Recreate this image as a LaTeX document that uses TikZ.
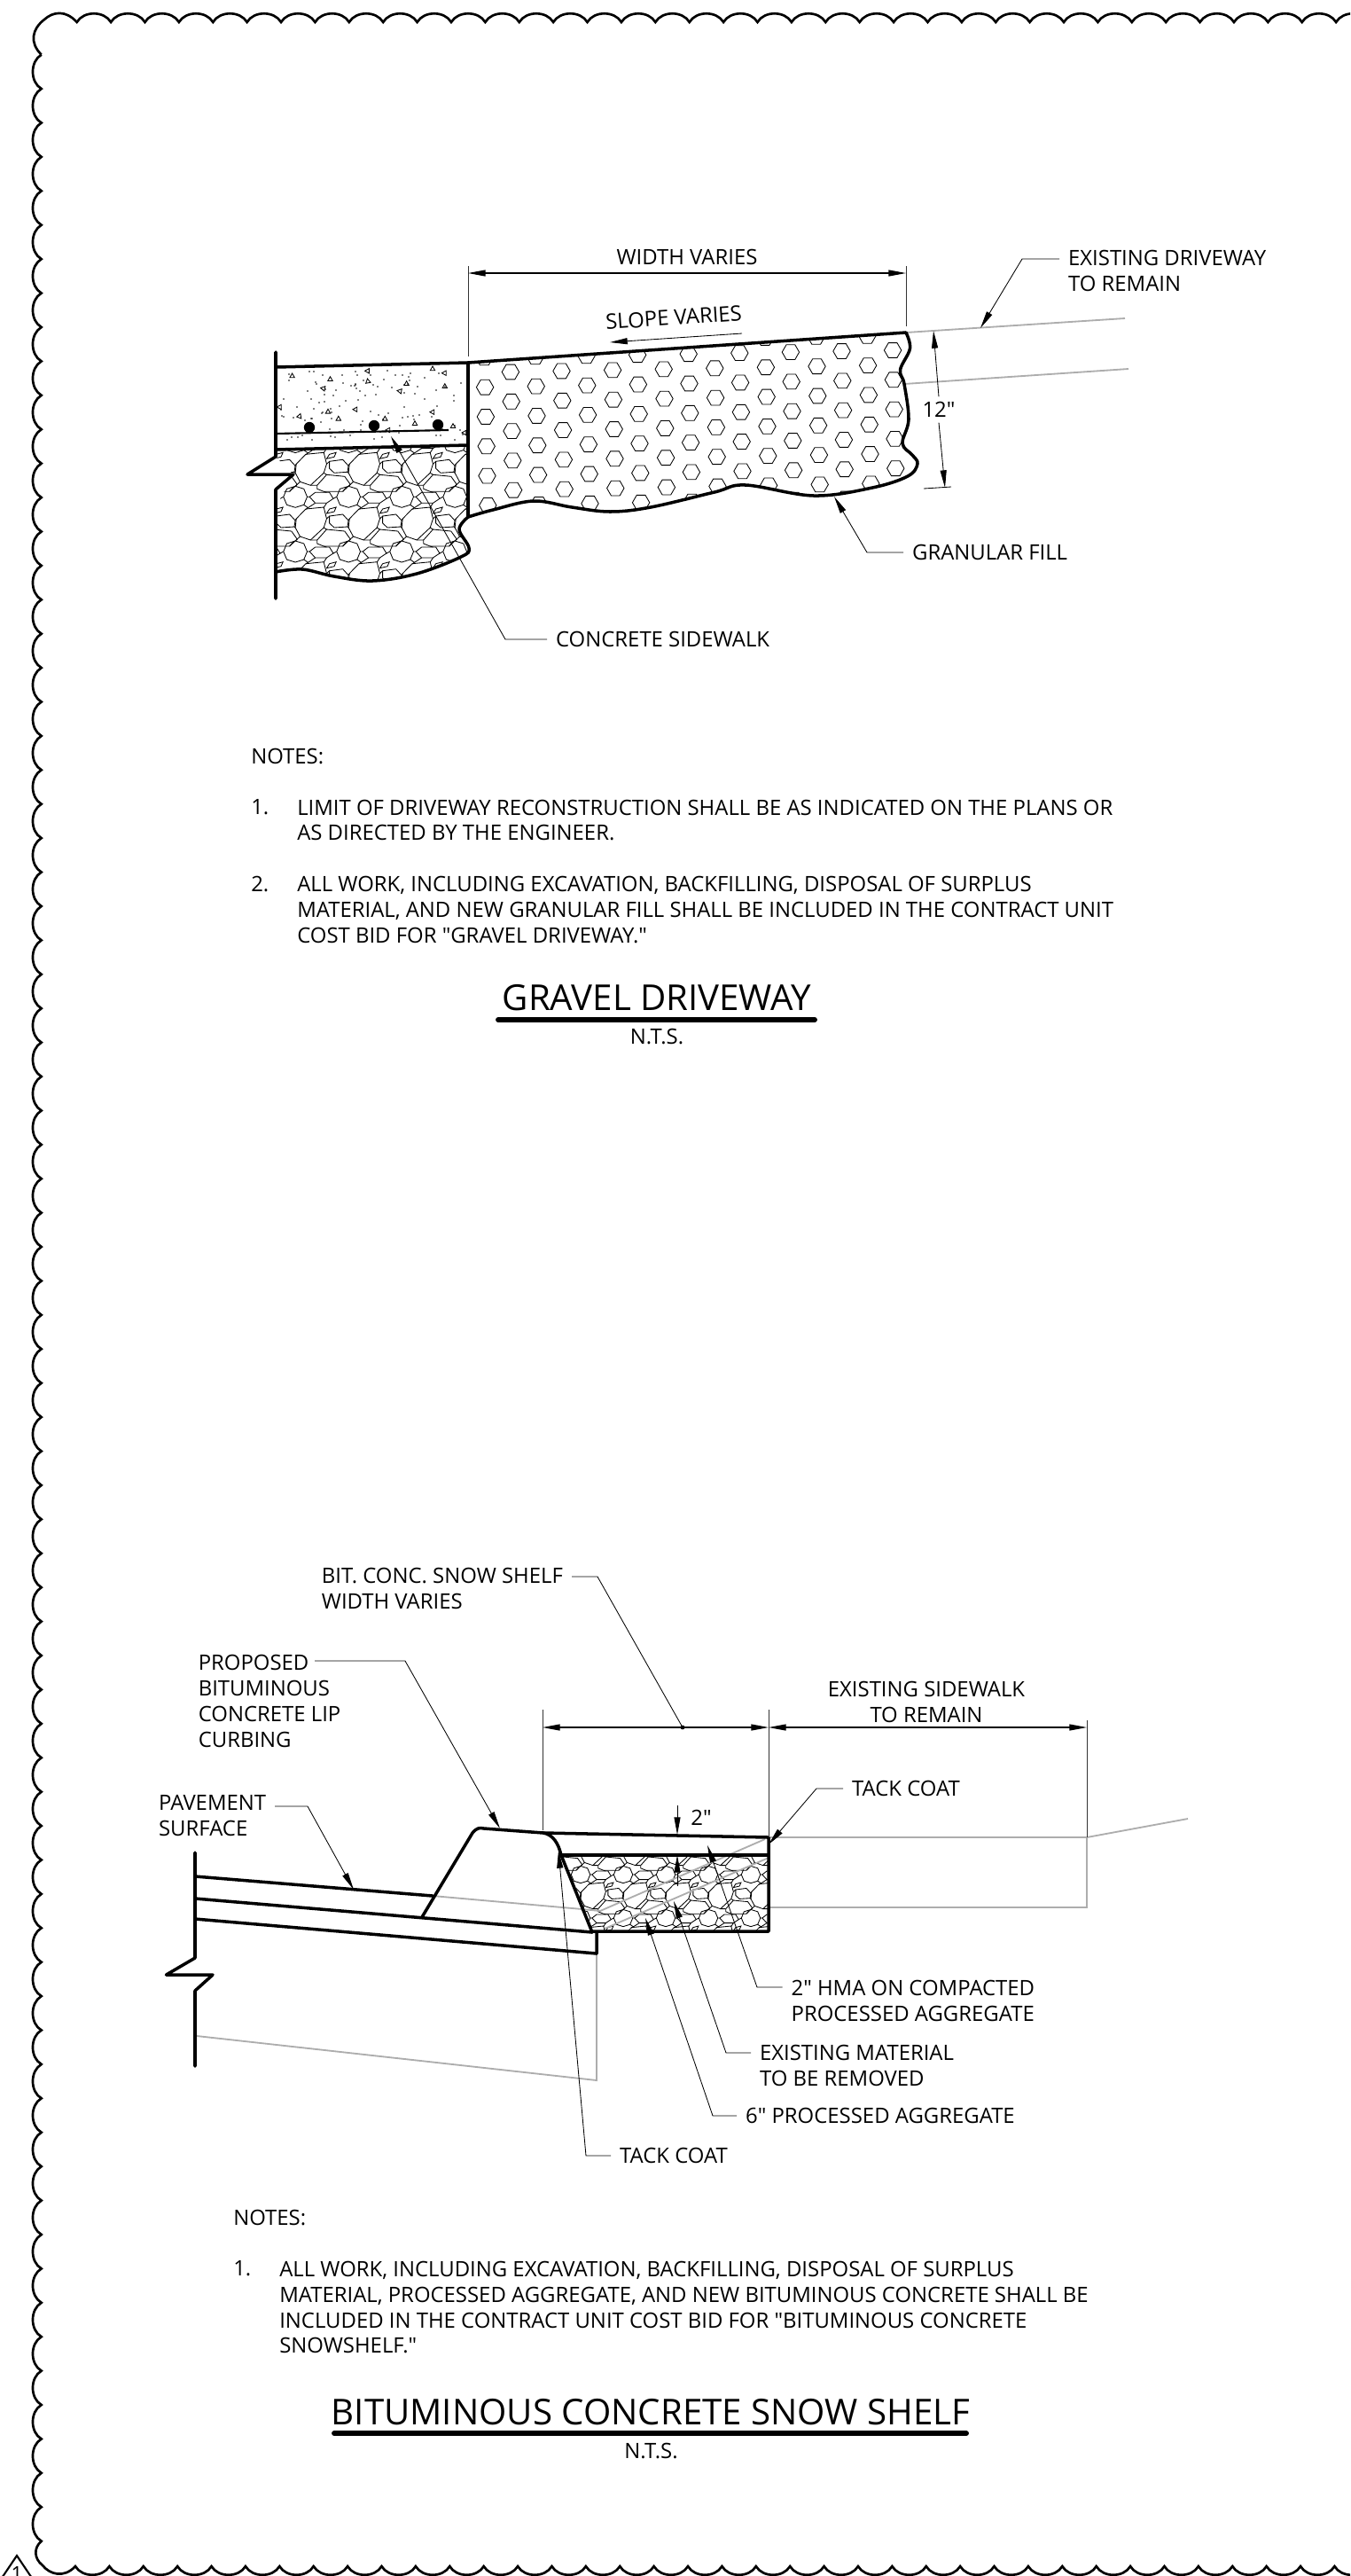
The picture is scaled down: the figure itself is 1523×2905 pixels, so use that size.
\documentclass[tikz,border=0pt]{standalone}
\usepackage{fontspec}
\defaultfontfeatures[\rmfamily]{}
\setmainfont{Open Sans}
\usetikzlibrary{arrows.meta}
\tikzset{
    heavyline/.style={line width=2.5pt,line join=round,line cap=round},
    thinline/.style={line width=0.6pt},
    greyline/.style={line width=1.3pt,color=black!32},
    leader/.style={line width=0.6pt,-{Triangle[length=14pt,width=5pt]}},
    dimline/.style={line width=0.8pt,{Triangle[length=14pt,width=5pt]}-{Triangle[length=14pt,width=5pt]}},
    extline/.style={line width=0.7pt,color=black!80},
    scallop/.style={line width=1.9pt,line join=miter},
    callout/.style={inner xsep=7pt,inner ysep=0pt,align=left,font=\fontsize{17}{20.6}\selectfont},
    plaintext/.style={inner sep=0pt,align=left,font=\fontsize{17}{20.6}\selectfont},
    titletext/.style={inner sep=0pt,font=\fontsize{28.6}{32}\selectfont},
    titlebar/.style={line width=4.2pt,line cap=round}
}
% rock pattern, one tile
\newcommand{\rocktile}{
    \draw[thinline] (3,13)--(13,2)--(32,0)--(35,13)--(32,23)--(18,37)--(7,33)--(2,23)--cycle;
    \draw[thinline] (38,10)--(52,8)--(58,15)--(57,22)--(43,23)--(38,18)--cycle;
    \draw[thinline] (35,7)--(38,2)--(45,0)--(43,5)--cycle;
    \draw[thinline] (25,37)--(35,25)--(54,27)--(60,36)--(52,44)--(32,44)--(25,41)--cycle;
    \draw[thinline] (2,38)--(11,41)--(14.5,50)--(11,59)--(2,62)--(-7,59)--(-10.5,50)--(-7,41)--cycle;
    \draw[thinline] (17,50)--(23,45)--(38,45)--(42,52)--(35,57)--(23,57)--cycle;
    \draw[thinline] (35,13)--(38,10) (32,23)--(35,25) (18,37)--(25,37) (7,33)--(2,38);
    \draw[thinline] (14.5,50)--(17,50) (42,52)--(45.5,50) (32,44)--(35,45) (52,44)--(56,39);
    \draw[thinline] (57,22)--(58,23) (58,15)--(59,13) (11,59)--(15,62) (35,57)--(32,62) (23,57)--(13,64);
}
\newcommand{\hexcell}[2]{
    \draw[thinline,shift={(#1,#2)}] (0:9.7)--(60:9.7)--(120:9.7)--(180:9.7)--(240:9.7)--(300:9.7)--cycle;
}
\newcommand{\gritmark}[3]{
    \draw[thinline,shift={(#1,#2)},rotate=#3] (0,-3)--(2.7,1.8)--(-2.7,1.8)--cycle;
}
\def\fillwave{-- plot[smooth,tension=.6] coordinates {(1022,375) (1026.5,393) (1015.5,417) (1020,433) (1025,473) (1018,500) (1029,513) (1035,523) (1024,537) (984,550) (918,559) (841,547) (806,555) (734,572) (688,577) (645,572) (602,565) (556,575) (528,583)}}
\def\rockwave{-- plot[smooth,tension=.6] coordinates {(528,583) (518,597) (529,618) (520,628) (470,647) (420,655) (377,650) (341,642) (311,645)}}
\begin{document}
\begin{tikzpicture}[x=0.25mm,y=-0.25mm]
    \useasboundingbox (0,0) rectangle (1523,2905);
    \clip (0,0) rectangle (1523,2905);
    % scalloped sheet edge
    \draw[scallop] (46.7,61.7) .. controls (33,48) and (36,33) .. (50,22) .. controls (60,13) and (74,11) .. (86.7,25)
        foreach \k in {1,...,38} { to[bend left=60] ({86.7+38.39*\k},25) };
    \draw[scallop] (46.7,61.7)
        foreach \k in {1,...,73} { to[bend right=60] (46.7,{61.7+38.41*\k}) }
        .. controls (38,2873) and (38,2885) .. (48,2893) .. controls (56,2903) and (72,2908) .. (85,2894)
        foreach \k in {1,...,38} { to[bend right=60] ({85+38.39*\k},2894) };
    \draw[line width=1.5pt] (19,2882) -- (-10,2925) -- (48,2925) -- cycle;
    \node[inner sep=0pt,font=\fontsize{16}{20}\selectfont] (revmark) at (19,2902) {1};

    % gravel driveway section
    \begin{scope}
        \clip (528,409) -- (1022,375) \fillwave -- cycle;
        \foreach \i in {0,...,17} {
            \foreach \j in {-2,...,5} {
                \pgfmathsetmacro{\hx}{547.1+28.8*\i+0.8*\j}
                \pgfmathsetmacro{\hy}{436.7+33.3*\j-0.525*\i-16.7*mod(\i,2)}
                \hexcell{\hx}{\hy}
            }
        }
    \end{scope}
    \begin{scope}
        \clip (311,507) -- (528,502) \rockwave -- (311,572) -- (331,535) -- (311,515) -- cycle;
        \foreach \i in {-1,...,3} {
            \foreach \j in {-1,...,2} {
                \begin{scope}[shift={(331+60*\i,510.3+61.7*\j)},xscale=1.07]
                    \rocktile
                \end{scope}
            }
        }
    \end{scope}
    % concrete speckle
    \pgfmathsetseed{41}
    \foreach \n in {1,...,110} {
        \pgfmathsetmacro{\sx}{random(315,524)}
        \pgfmathsetmacro{\sy}{random(418,498)}
        \fill (\sx,\sy) circle (0.9);
    }
    \foreach \gx/\gy/\ga in {329.6/424/0,372.5/427.7/0,414.6/418.3/90,415/430/10,364.6/438/80,488/416/0,501.4/420.7/90,458.6/432.7/0,451/441/80,501.8/435.7/0,315.4/459/90,337.9/469.3/-20,370/464.3/0,381.8/472.3/0,401/461.7/90,434.3/472.3/0,487.9/464.7/90,468/477.7/0,511/480.7/0,437.9/485/90,524/488/90} {
        \gritmark{\gx}{\gy}{\ga}
    }
    \draw[line width=1.5pt] (311,489) -- (506,485);
    \fill (349,482) circle (6.2);
    \fill (422,480) circle (6.2);
    \fill (494,479) circle (6.2);
    % existing pavement, behind
    \draw[greyline] (1022,375) -- (1269,359);
    \draw[greyline] (1020,433) -- (1273,416);
    % outlines
    \draw[heavyline] (311,397) -- (311,515) -- (279,535) -- (331,535) -- (311,552) -- (311,675);
    \draw[heavyline] (311,414) -- (528,409) -- (1022,375);
    \draw[heavyline] (311,507) -- (528,502);
    \draw[heavyline] (528,409) -- (528,583);
    \draw[heavyline] (528,583) \rockwave;
    \draw[heavyline] (1022,375) \fillwave;

    % driveway dimensions
    \coordinate (widthleft) at (528,308);
    \coordinate (widthright) at (1022,308);
    \draw[extline] (528,300) -- (528,402);
    \draw[extline] (1022,300) -- (1022,368);
    \draw[dimline] (widthleft) -- node[plaintext,above=6pt] (widthtext) {WIDTH VARIES} (widthright);
    \node[plaintext,rotate=3.9] (slopetext) at (760,358) {SLOPE VARIES};
    \coordinate (slopestart) at (837,376);
    \coordinate (slopetip) at (688,386);
    \draw[leader] (slopestart) -- (slopetip);
    \node[inner sep=4pt,font=\fontsize{17}{20}\selectfont] (twelve) at (1059,462) {12"};
    \coordinate (twelvetop) at (1053,373);
    \coordinate (twelvebot) at (1066,550);
    \draw[leader] (twelve.north) -- (twelvetop);
    \draw[leader] (twelve.south) -- (twelvebot);
    \draw[thinline] (1042,551) -- (1073,549);

    % driveway callouts
    \node[callout,anchor=west] (exdrive) at (1195,305) {EXISTING DRIVEWAY\\TO REMAIN};
    \coordinate (exdrivebend) at (1153,292);
    \coordinate (exdrivetip) at (1106,370);
    \draw[leader] (exdrive.west |- exdrivebend) -- (exdrivebend) -- (exdrivetip);
    \node[callout,anchor=west] (granular) at (1019,623) {GRANULAR FILL};
    \coordinate (granularbend) at (978,623);
    \coordinate (granulartip) at (941,560);
    \draw[leader] (granular.west) -- (granularbend) -- (granulartip);
    \node[callout,anchor=west] (sidewalk) at (617,721) {CONCRETE SIDEWALK};
    \coordinate (sidewalkbend) at (570,721);
    \coordinate (sidewalktip) at (441,492);
    \draw[leader] (sidewalk.west) -- (sidewalkbend) -- (sidewalktip);

    % driveway notes
    \node[plaintext,anchor=west] (notesa) at (283,853) {NOTES:};
    \node[plaintext,anchor=west] (notesaone) at (283,910) {1.};
    \node[plaintext,anchor=west] (notesatxt) at (335,925) {LIMIT OF DRIVEWAY RECONSTRUCTION SHALL BE AS INDICATED ON THE PLANS OR\\AS DIRECTED BY THE ENGINEER.};
    \node[plaintext,anchor=west] (notesatwo) at (283,997) {2.};
    \node[plaintext,anchor=west] (notesbtxt) at (335,1026) {ALL WORK, INCLUDING EXCAVATION, BACKFILLING, DISPOSAL OF SURPLUS\\MATERIAL, AND NEW GRANULAR FILL SHALL BE INCLUDED IN THE CONTRACT UNIT\\COST BID FOR "GRAVEL DRIVEWAY."};
    \node[titletext] (drivetitle) at (741,1125) {GRAVEL DRIVEWAY};
    \draw[titlebar] (562,1150) -- (919,1150);
    \node[plaintext] (drivescale) at (741,1169) {N.T.S.};

    % snow shelf section
    \begin{scope}
        \clip (633,2092) -- (867,2092) -- (867,2178) -- (668,2178) -- cycle;
        \foreach \i in {-1,...,5} {
            \foreach \j in {-1,...,2} {
                \begin{scope}[shift={(653.3+48*\i,2074+49*\j)},xscale=.857,yscale=.8]
                    \rocktile
                \end{scope}
            }
        }
    \end{scope}
    % existing pavement, behind
    \draw[greyline] (488,2138) -- (657,2153) -- (677,2155) -- (863,2074);
    \draw[greyline] (682,2175) -- (867,2095);
    \draw[greyline] (867,2072) -- (1226,2072) -- (1340,2051);
    \draw[greyline] (867,2151) -- (1226,2151) -- (1226,2072);
    \draw[greyline] (222,2296) -- (673,2346) -- (673,2203);
    % outlines
    \draw[heavyline] (220,2089) -- (220,2208) -- (187.5,2227) -- (240,2227) -- (220,2245) -- (220,2330);
    \draw[heavyline] (220,2116) -- (488,2138);
    \draw[heavyline] (220,2141) -- (668,2179);
    \draw[heavyline] (220,2164) -- (673,2203) -- (673,2179);
    \draw[heavyline] (476,2162) -- (533,2067) .. controls (538,2061) and (541,2061) .. (546,2062) -- (613,2067) .. controls (624,2069) and (630,2079) .. (633,2092) -- (668,2179);
    \draw[heavyline] (613,2067) -- (867,2072) -- (867,2178) -- (668,2178);
    \draw[heavyline] (633,2092) -- (867,2092);

    % shelf dimensions
    \coordinate (shelfleft) at (612,1948);
    \coordinate (shelfmid) at (867,1948);
    \coordinate (walkright) at (1226,1948);
    \draw[extline] (612,1928) -- (612,2064);
    \draw[extline] (867,1928) -- (867,2072);
    \draw[extline] (1226,1940) -- (1226,2072);
    \draw[dimline] (shelfleft) -- (shelfmid);
    \draw[dimline] (shelfmid) -- (walkright);
    \node[plaintext,align=center] (walktext) at (1045,1919) {EXISTING SIDEWALK\\TO REMAIN};
    \node[inner sep=0pt,font=\fontsize{17}{20}\selectfont] (twoinch) at (791,2050) {2"};
    \coordinate (twotopstart) at (764,2036);
    \coordinate (twotoptip) at (764,2069);
    \coordinate (twobotstart) at (764,2127);
    \coordinate (twobottip) at (764,2092);
    \draw[leader] (twotopstart) -- (twotoptip);
    \draw[leader] (twobotstart) -- (twobottip);

    % shelf callouts
    \node[callout,anchor=east] (bitconc) at (645,1791) {BIT. CONC. SNOW SHELF\\WIDTH VARIES};
    \coordinate (bitconcbend) at (674,1778);
    \coordinate (bitconctip) at (770,1948);
    \draw[line width=0.6pt] (bitconc.east |- bitconcbend) -- (bitconcbend) -- (bitconctip);
    \fill (bitconctip) circle (2.4);
    \node[plaintext,anchor=west] (curbing) at (223.5,1918) {PROPOSED\\BITUMINOUS\\CONCRETE LIP\\CURBING};
    \coordinate (curbingstart) at (355,1873);
    \coordinate (curbingbend) at (457,1873);
    \coordinate (curbingtip) at (564,2062);
    \draw[leader] (curbingstart) -- (curbingbend) -- (curbingtip);
    \node[callout,anchor=west] (pavement) at (169,2048) {PAVEMENT\\SURFACE};
    \coordinate (pavementbend) at (347,2037);
    \coordinate (pavementtip) at (399,2131);
    \draw[leader] (pavement.east |- pavementbend) -- (pavementbend) -- (pavementtip);
    \node[callout,anchor=west] (tacktop) at (951,2017) {TACK COAT};
    \coordinate (tacktopbend) at (921,2017);
    \coordinate (tacktoptip) at (867,2080);
    \draw[leader] (tacktop.west) -- (tacktopbend) -- (tacktoptip);
    \node[callout,anchor=west] (hma) at (882.5,2256) {2" HMA ON COMPACTED\\PROCESSED AGGREGATE};
    \coordinate (hmabend) at (854,2241);
    \coordinate (hmatip) at (798,2081);
    \draw[leader] (hma.west |- hmabend) -- (hmabend) -- (hmatip);
    \node[callout,anchor=west] (existmat) at (847,2329) {EXISTING MATERIAL\\TO BE REMOVED};
    \coordinate (existmatbend) at (819,2315);
    \coordinate (existmattip) at (760,2144);
    \draw[leader] (existmat.west |- existmatbend) -- (existmatbend) -- (existmattip);
    \node[callout,anchor=west] (procagg) at (831,2386) {6" PROCESSED AGGREGATE};
    \coordinate (procaggbend) at (804,2386);
    \coordinate (procaggtip) at (728,2163);
    \draw[leader] (procagg.west) -- (procaggbend) -- (procaggtip);
    \node[callout,anchor=west] (tacklow) at (689,2431) {TACK COAT};
    \coordinate (tacklowbend) at (661,2431);
    \coordinate (tacklowtip) at (630,2087);
    \draw[leader] (tacklow.west) -- (tacklowbend) -- (tacklowtip);

    % shelf notes
    \node[plaintext,anchor=west] (notesc) at (263,2501) {NOTES:};
    \node[plaintext,anchor=west] (notescone) at (263,2558) {1.};
    \node[plaintext,anchor=west] (notesctxt) at (315,2602) {ALL WORK, INCLUDING EXCAVATION, BACKFILLING, DISPOSAL OF SURPLUS\\MATERIAL, PROCESSED AGGREGATE, AND NEW BITUMINOUS CONCRETE SHALL BE\\INCLUDED IN THE CONTRACT UNIT COST BID FOR "BITUMINOUS CONCRETE\\SNOWSHELF."};
    \node[titletext] (shelftitle) at (734,2720) {BITUMINOUS CONCRETE SNOW SHELF};
    \draw[titlebar] (377,2744) -- (1090,2744);
    \node[plaintext] (shelfscale) at (734.5,2764) {N.T.S.};
\end{tikzpicture}
\end{document}
